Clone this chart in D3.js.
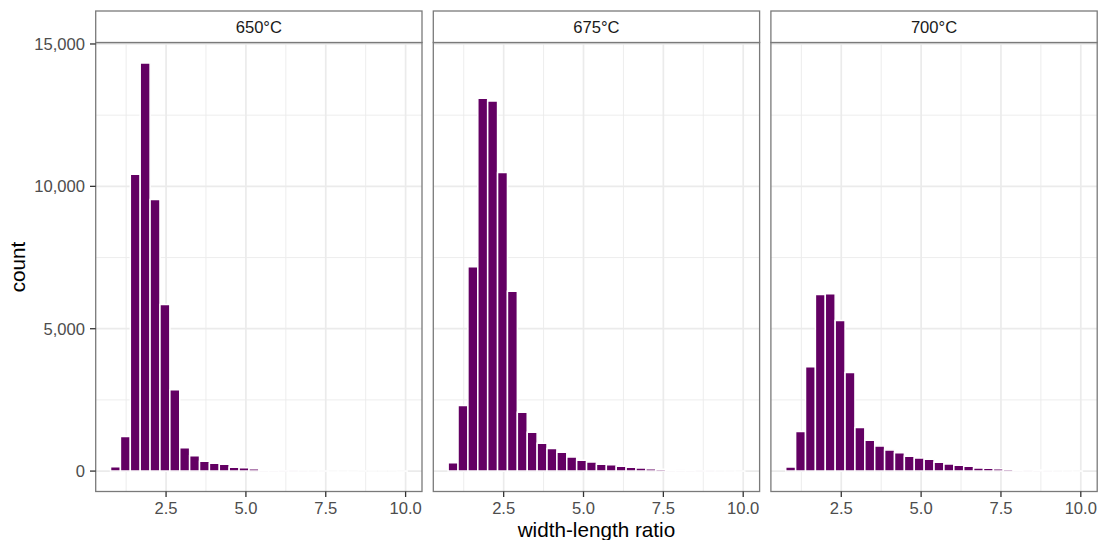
<!DOCTYPE html>
<html>
<head>
<meta charset="utf-8">
<script src="https://cdn.jsdelivr.net/npm/d3@7/dist/d3.min.js"></script>
<style>
  html, body { margin: 0; padding: 0; background: #fff; }
  svg { display: block; font-family: "Liberation Sans", Arial, Helvetica, sans-serif; }
</style>
</head>
<body>
<svg id="chart" width="1099" height="540"></svg>
<script>
// ---- data ----
const temps = ["650°C", "675°C", "700°C"];
const binMin = 0.761;
const binWidth = 0.3096;
const counts650 = [155, 1211, 10426, 14335, 9535, 5849, 2856, 824, 542, 345, 275, 239, 134, 120, 85, 39, 18, 10, 6, 4, 3, 2, 1, 1, 1, 0, 0, 0, 0, 1];
const counts675 = [296, 2303, 7176, 13092, 12996, 10486, 6317, 2070, 1366, 979, 789, 662, 496, 380, 320, 239, 225, 169, 134, 109, 80, 66, 50, 40, 12, 8, 5, 3, 2, 1];
const counts700 = [144, 1387, 3665, 6200, 6225, 5285, 3465, 1528, 1084, 884, 743, 648, 521, 461, 415, 310, 250, 204, 169, 109, 99, 85, 63, 50, 6, 35, 4, 3, 2, 1];
const xTicks = [2.5, 5.0, 7.5, 10.0];
const xMinor = [1.25, 3.75, 6.25, 8.75];
const yTicks = [0, 5000, 10000, 15000];
const yMinor = [2500, 7500, 12500];
const xTitle = "width-length ratio";
const yTitle = "count";

const panelsData = [counts650, counts675, counts700];

// ---- layout ----
const svg = d3.select("#chart");
const panelLeft = 95.7, panelW = 326.3, panelGap = 11.3;
const panelTop = 42.5, panelBottom = 491.5, stripTop = 11;
const barFill = "#630063";
const gridCol = "#ebebeb";
const borderCol = "#7a7a7a";
const tickFont = 16.6;

const nBins = counts650.length;
const xLo = binMin, xHi = binMin + nBins * binWidth;
const xPad = 0.05 * (xHi - xLo);
const yMaxData = d3.max(panelsData.flat());
const yPad = 0.05 * yMaxData;

const y = d3.scaleLinear().domain([-yPad, yMaxData + yPad]).range([panelBottom, panelTop]);

panelsData.forEach((counts, p) => {
  const px = panelLeft + p * (panelW + panelGap);
  const x = d3.scaleLinear().domain([xLo - xPad, xHi + xPad]).range([px, px + panelW]);
  const g = svg.append("g");

  // grid minor
  g.selectAll(".vmin").data(xMinor).join("line")
    .attr("x1", d => x(d)).attr("x2", d => x(d))
    .attr("y1", panelTop).attr("y2", panelBottom)
    .attr("stroke", gridCol).attr("stroke-width", 0.9);
  g.selectAll(".hmin").data(yMinor).join("line")
    .attr("x1", px).attr("x2", px + panelW)
    .attr("y1", d => y(d)).attr("y2", d => y(d))
    .attr("stroke", gridCol).attr("stroke-width", 0.9);
  // grid major
  g.selectAll(".vmaj").data(xTicks).join("line")
    .attr("x1", d => x(d)).attr("x2", d => x(d))
    .attr("y1", panelTop).attr("y2", panelBottom)
    .attr("stroke", gridCol).attr("stroke-width", 1.7);
  g.selectAll(".hmaj").data(yTicks).join("line")
    .attr("x1", px).attr("x2", px + panelW)
    .attr("y1", d => y(d)).attr("y2", d => y(d))
    .attr("stroke", gridCol).attr("stroke-width", 1.7);

  // bars
  const bins = counts.map((c, i) => ({ x0: binMin + i * binWidth, x1: binMin + (i + 1) * binWidth, c }));
  g.selectAll(".bar").data(bins).join("path")
    .attr("d", d => {
      const x0 = x(d.x0), x1 = x(d.x1), y0 = y(0), y1 = y(d.c);
      return `M${x0},${y0}H${x1}V${y1}H${x0}Z`;
    })
    .attr("fill", barFill)
    .attr("stroke", "#ffffff")
    .attr("stroke-width", 1.5);

  // panel border
  g.append("rect")
    .attr("x", px).attr("y", panelTop).attr("width", panelW).attr("height", panelBottom - panelTop)
    .attr("fill", "none").attr("stroke", borderCol).attr("stroke-width", 1.3);

  // strip
  g.append("rect")
    .attr("x", px).attr("y", stripTop).attr("width", panelW).attr("height", panelTop - stripTop)
    .attr("fill", "#ffffff").attr("stroke", borderCol).attr("stroke-width", 1.3);
  g.append("text")
    .attr("x", px + panelW / 2).attr("y", 33.2)
    .attr("text-anchor", "middle").attr("font-size", tickFont).attr("fill", "#1a1a1a")
    .text(temps[p]);

  // x axis ticks
  g.selectAll(".xt").data(xTicks).join("line")
    .attr("x1", d => x(d)).attr("x2", d => x(d))
    .attr("y1", panelBottom).attr("y2", panelBottom + 5.5)
    .attr("stroke", "#333333").attr("stroke-width", 1.3);
  g.selectAll(".xl").data(xTicks).join("text")
    .attr("x", d => x(d)).attr("y", 514)
    .attr("text-anchor", "middle").attr("font-size", tickFont).attr("fill", "#4d4d4d")
    .text(d => d3.format(".1f")(d));

  if (p === 0) {
    g.selectAll(".yt").data(yTicks).join("line")
      .attr("x1", px - 5.7).attr("x2", px)
      .attr("y1", d => y(d)).attr("y2", d => y(d))
      .attr("stroke", "#333333").attr("stroke-width", 1.3);
    g.selectAll(".yl").data(yTicks).join("text")
      .attr("x", px - 10.7).attr("y", d => y(d))
      .attr("dy", "0.35em")
      .attr("text-anchor", "end").attr("font-size", tickFont).attr("fill", "#4d4d4d")
      .text(d => d3.format(",")(d));
  }
  if (p === 1) {
    svg.append("text")
      .attr("x", px + panelW / 2).attr("y", 537)
      .attr("text-anchor", "middle").attr("font-size", 20.7).attr("fill", "#000")
      .text(xTitle);
  }
});

svg.append("text")
  .attr("transform", `translate(25,${(panelTop + panelBottom) / 2}) rotate(-90)`)
  .attr("text-anchor", "middle").attr("font-size", 20.7).attr("fill", "#000")
  .text(yTitle);
</script>
</body>
</html>
